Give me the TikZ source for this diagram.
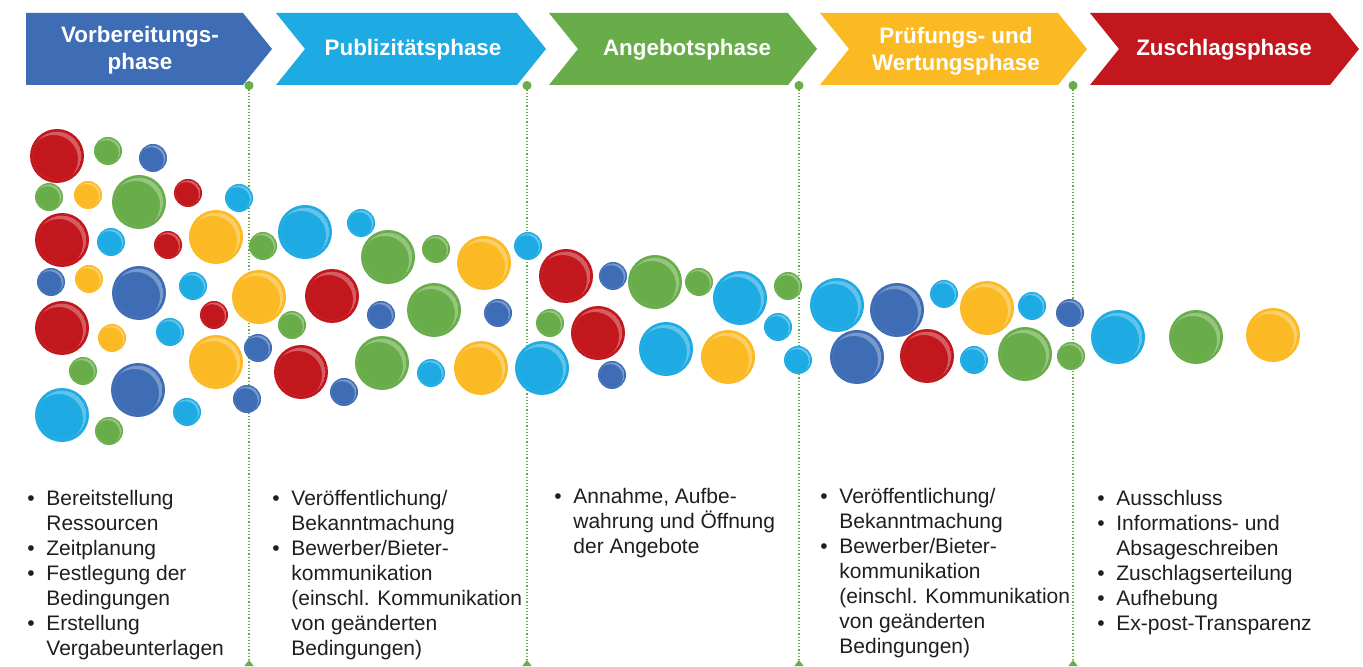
\documentclass[tikz,border=0pt]{standalone}
\usepackage{fontspec}
\setmainfont{Liberation Sans}
\usetikzlibrary{arrows.meta}

\definecolor{phblue}{HTML}{3E6DB5}
\definecolor{phcyan}{HTML}{1EAAE2}
\definecolor{phgreen}{HTML}{69AD4A}
\definecolor{phyellow}{HTML}{FBB923}
\definecolor{phred}{HTML}{C1171D}

% bullet and hanging indent for the lists
\newcommand{\bul}{\makebox[9.5pt][l]{•}}
\newcommand{\cont}{\hspace*{9.5pt}}

\begin{document}
\begin{tikzpicture}[
        x=0.5pt, y=-0.5pt,
        phasetxt/.style={text=white, font=\fontsize{11.2}{13.5}\selectfont\bfseries, align=center, inner sep=0pt},
        itemlist/.style={anchor=north west, inner sep=0pt, align=left, text=black!88, font=\fontsize{10.5}{12.5}\selectfont},
        sepline/.style={draw=phgreen, densely dotted, line width=0.6pt, {Circle[length=4.5pt]}-{Triangle[reversed, length=3pt, width=4.5pt]}}
    ]
        \useasboundingbox (0,0) rectangle (1363,667);
        \fill[white] (0,0) rectangle (1363,667);

        % phase arrows
        \fill[phblue] (26,13) -- (243,13) -- (272,49) -- (243,85) -- (26,85) -- cycle;
        \foreach \l/\r/\c in {276/546/phcyan, 549/817/phgreen, 820/1087/phyellow, 1090/1359/phred}
            \fill[\c] (\l,13) -- ({\r-29},13) -- (\r,49) -- ({\r-29},85) -- (\l,85) -- ({\l+29},49) -- cycle;

        \node[phasetxt] (phase1) at (140,50) {Vorbereitungs-\\phase};
        \node[phasetxt] (phase2) at (413,50) {Publizitätsphase};
        \node[phasetxt] (phase3) at (687,50) {Angebotsphase};
        \node[phasetxt] (phase4) at (956,51) {Prüfungs- und\\Wertungsphase};
        \node[phasetxt] (phase5) at (1224,50) {Zuschlagsphase};

        % dotted separators between the phases
        \foreach \x [count=\i] in {249,527,799,1073} {
            \coordinate (top\i) at (\x,81);
            \coordinate (bot\i) at (\x,666);
            \draw[sepline] (top\i) -- (bot\i);
        }

        % bubbles
        \foreach \x/\y/\r/\c in {
            57/156/27/phred, 108/151/14/phgreen, 153/158/14/phblue, 49/197/14/phgreen,
            88/195/14/phyellow, 139/202/27/phgreen, 188/193/14/phred, 239/198/14/phcyan,
            62/240/27/phred, 111/242/14/phcyan, 168/245/14/phred, 216/237/27/phyellow,
            263/246/14/phgreen, 305/232/27/phcyan, 51/282/14/phblue, 89/279/14/phyellow,
            139/293/27/phblue, 193/286/14/phcyan, 259/297/27/phyellow, 332/296/27/phred,
            62/328/27/phred, 112/338/14/phyellow, 170/332/14/phcyan, 214/315/14/phred,
            292/325/14/phgreen, 216/362/27/phyellow, 258/348/14/phblue, 301/372/27/phred,
            83/371/14/phgreen, 138/390/27/phblue, 62/415/27/phcyan, 109/431/14/phgreen,
            187/412/14/phcyan, 247/399/14/phblue,
            361/223/14/phcyan, 388/257/27/phgreen, 436/249/14/phgreen, 484/263/27/phyellow,
            528/246/14/phcyan, 381/315/14/phblue, 434/310/27/phgreen, 498/313/14/phblue,
            382/363/27/phgreen, 431/373/14/phcyan, 481/368/27/phyellow, 344/392/14/phblue,
            566/276/27/phred, 613/276/14/phblue, 655/282/27/phgreen, 699/282/14/phgreen,
            740/298/27/phcyan, 788/286/14/phgreen, 550/323/14/phgreen, 598/333/27/phred,
            778/327/14/phcyan, 542/368/27/phcyan, 666/349/27/phcyan, 728/357/27/phyellow,
            612/375/14/phblue, 798/360/14/phcyan,
            837/305/27/phcyan, 897/310/27/phblue, 944/294/14/phcyan, 987/308/27/phyellow,
            1032/306/14/phcyan, 1070/313/14/phblue, 857/357/27/phblue, 927/356/27/phred,
            974/360/14/phcyan, 1025/354/27/phgreen, 1071/356/14/phgreen,
            1118/337/27/phcyan, 1196/337/27/phgreen, 1273/335/27/phyellow} {
            \fill[\c] (\x,\y) circle[radius=\r*0.5pt];
            \begin{scope}
                \clip (\x,\y) circle[radius=\r*0.45pt];
                \fill[white, opacity=0.3, even odd rule] (\x,\y) circle[radius=\r*0.45pt]
                    ({\x-0.12*\r},{\y+0.12*\r}) circle[radius=\r*0.45pt];
            \end{scope}
        }

        % tasks per phase
        \node[itemlist] (list1) at (27,490) {\bul Bereitstellung\\\cont Ressourcen\\\bul Zeitplanung\\\bul Festlegung der\\\cont Bedingungen\\\bul Erstellung\\\cont Vergabeunterlagen};
        \node[itemlist] (list2) at (272,490) {\bul Veröffentlichung/\\\cont Bekanntmachung\\\bul Bewerber/Bieter-\\\cont kommunikation\\\cont (einschl. Kommunikation\\\cont von geänderten\\\cont Bedingungen)};
        \node[itemlist] (list3) at (554,488) {\bul Annahme, Aufbe-\\\cont wahrung und Öffnung\\\cont der Angebote};
        \node[itemlist] (list4) at (820,488) {\bul Veröffentlichung/\\\cont Bekanntmachung\\\bul Bewerber/Bieter-\\\cont kommunikation\\\cont (einschl. Kommunikation\\\cont von geänderten\\\cont Bedingungen)};
        \node[itemlist] (list5) at (1097,490) {\bul Ausschluss\\\bul Informations- und\\\cont Absageschreiben\\\bul Zuschlagserteilung\\\bul Aufhebung\\\bul Ex-post-Transparenz};
    \end{tikzpicture}
\end{document}
